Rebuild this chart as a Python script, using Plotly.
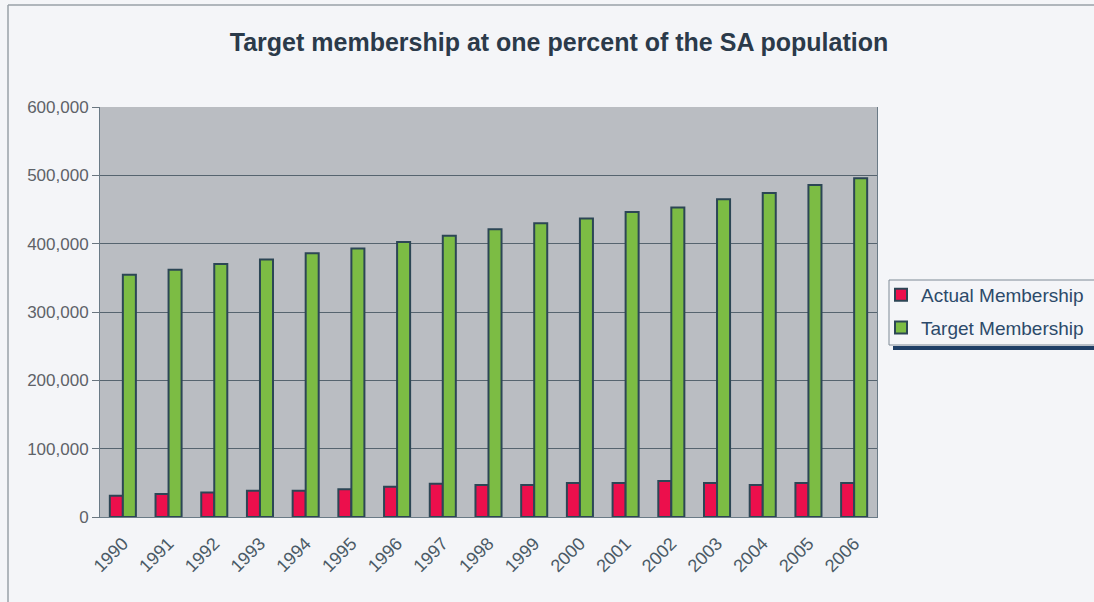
import plotly.graph_objects as go

years = [str(y) for y in range(1990, 2007)]
actual = [31000, 33700, 36000, 38500, 38500, 40500, 44300, 48800, 46800,
          46800, 49800, 49800, 52700, 49800, 46800, 49800, 49800]
target = [354600, 362000, 370300, 377000, 386000, 393000, 402500, 411700, 421000,
          430000, 437000, 446400, 453000, 465000, 474000, 486000, 495700]
y_ticks = [0, 100000, 200000, 300000, 400000, 500000, 600000]
y_tick_labels = ["0", "100,000", "200,000", "300,000", "400,000", "500,000", "600,000"]

W, H = 1094, 602
L, R, T, B = 100, 217, 107, 85
pw, ph = W - L - R, H - T - B

def px(x):
    return (x - L) / pw

def py(y):
    return (H - B - y) / ph

fig = go.Figure()
fig.add_trace(go.Bar(x=years, y=actual, name="Actual Membership", legendgroup="a",
                     marker=dict(color="#ec0f4c", line=dict(color="#2c4655", width=2))))
fig.add_trace(go.Bar(x=years, y=target, name="Target Membership", legendgroup="t",
                     marker=dict(color="#7cbc44", line=dict(color="#2c4655", width=2))))

fig.update_layout(
    width=W, height=H,
    margin=dict(l=L, r=R, t=T, b=B, autoexpand=False),
    paper_bgcolor="#f4f5f8",
    plot_bgcolor="#babdc2",
    barmode="group", bargap=0.43, bargroupgap=0.0,
    font=dict(family="Liberation Sans, Arial, sans-serif", color="#4a5560"),
    title=dict(text="<b>Target membership at one percent of the SA population</b>",
               xref="container", x=559 / W, xanchor="center", y=1 - 42 / H, yanchor="middle",
               font=dict(size=25, color="#2b3a4a")),
    legend=dict(x=px(881), y=py(276), xanchor="left", yanchor="top",
                bgcolor="rgba(0,0,0,0)", borderwidth=0,
                font=dict(size=19, color="#2c4a6a"), traceorder="grouped",
                tracegroupgap=5, itemwidth=30),
    showlegend=True,
)
fig.update_xaxes(type="category", tickangle=-45, tickfont=dict(size=18, color="#4a5a66"),
                 showline=True, linecolor="#6a7a86", linewidth=1, ticks="",
                 ticklabelstandoff=8, showgrid=False)
fig.update_yaxes(range=[0, 600000], tickvals=y_ticks, ticktext=y_tick_labels,
                 tickfont=dict(size=17, color="#5e6268"), ticks="outside", ticklen=7,
                 tickcolor="#6a7680", showgrid=True, gridcolor="#56646f", gridwidth=1,
                 showline=True, linecolor="#6a7a86", mirror=True, zeroline=False)

# outer chart frame lines
fig.add_shape(type="line", xref="paper", yref="paper", x0=px(8), x1=px(8), y0=py(5), y1=py(605),
              line=dict(color="#9aa0a8", width=1.5))
fig.add_shape(type="line", xref="paper", yref="paper", x0=px(8), x1=px(1100), y0=py(5), y1=py(5),
              line=dict(color="#9aa0a8", width=1.5))
# legend box and its shadow
fig.add_shape(type="rect", xref="paper", yref="paper", x0=px(893), x1=px(1104), y0=py(346), y1=py(350),
              fillcolor="#1f3f66", line=dict(width=0))
fig.add_shape(type="rect", xref="paper", yref="paper", x0=px(889), x1=px(1104), y0=py(280), y1=py(345),
              fillcolor="#f4f5f8", line=dict(color="#7f8a96", width=1))

fig.write_html("out.html", config={"displayModeBar": False},
               post_script="document.body.style.margin='0';document.body.style.overflow='hidden';")
